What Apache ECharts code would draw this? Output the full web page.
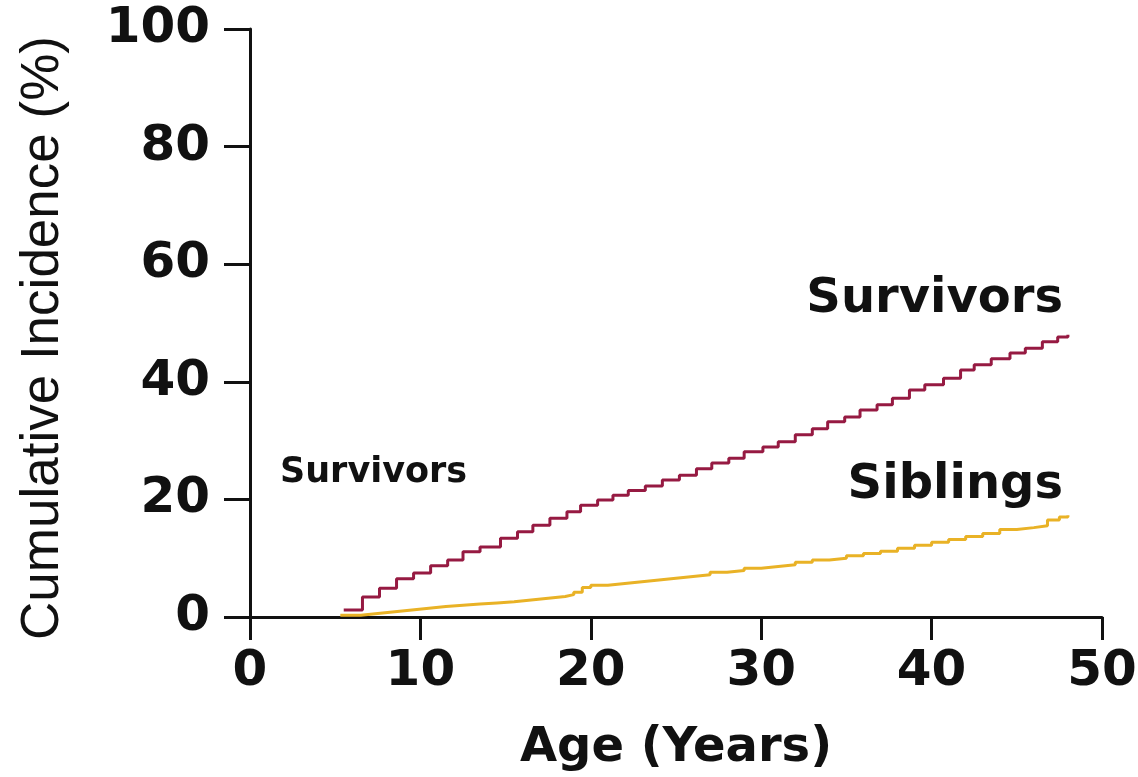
<!DOCTYPE html>
<html>
<head>
<meta charset="utf-8">
<script src="https://cdn.jsdelivr.net/npm/echarts@6/dist/echarts.min.js"></script>
<style>html,body{margin:0;padding:0;background:#fff;}#chart{width:1138px;height:777px;}</style>
</head>
<body>
<div id="chart"></div>
<script>
// Survivors: [age at step, cumulative incidence %]
const survivorsAge = [5.5,6.6,7.6,8.6,9.6,10.6,11.6,12.5,13.5,14.7,15.7,16.6,17.6,18.6,19.4,20.4,21.3,22.2,23.2,24.2,25.2,26.2,27.1,28.1,29.0,30.1,31.0,32.0,33.0,33.9,34.9,35.8,36.8,37.7,38.7,39.6,40.7,41.7,42.5,43.5,44.6,45.5,46.5,47.4,48.0];
const survivorsVal = [1.2,3.4,4.9,6.5,7.5,8.7,9.7,11.1,11.9,13.4,14.5,15.6,16.8,17.9,19.0,19.9,20.7,21.5,22.3,23.3,24.1,25.2,26.2,27.0,28.1,28.9,29.8,31.0,32.0,33.2,34.0,35.2,36.1,37.2,38.6,39.5,40.6,42.0,42.9,43.9,44.9,45.7,46.8,47.6,48.0];
const siblingsAge = [5.3,6.5,7.5,8.5,9.5,10.5,11.5,12.5,13.5,14.5,15.5,16.5,17.5,18.5,19.0,19.5,20.0,21,22,23,24,25,26,27,28,29,30,31,32,33,34,35,36,37,38,39,40,41,42,43,44,45,46,46.8,47.5,48];
const siblingsVal = [0.3,0.6,0.9,1.2,1.5,1.8,2.0,2.2,2.4,2.6,2.9,3.2,3.5,3.8,4.2,5.0,5.4,5.7,6.0,6.3,6.6,6.9,7.2,7.6,7.9,8.3,8.6,8.9,9.3,9.7,10.0,10.4,10.8,11.2,11.7,12.2,12.7,13.2,13.7,14.2,14.9,15.2,15.5,16.5,17.0,17.3];
const xTicks = [0,10,20,30,40,50];
const yTicks = [0,20,40,60,80,100];

const zip = (a,b) => a.map((v,i)=>[v,b[i]]);
const chart = echarts.init(document.getElementById('chart'), null, {renderer:'canvas'});
const tickFont = {fontFamily:'DejaVu Sans', fontWeight:'bold', fontSize:50, color:'#111'};
chart.setOption({
  animation:false,
  backgroundColor:'#fff',
  grid:{left:250, right:36, top:29, bottom:160, containLabel:false, outerBoundsMode:'none'},
  xAxis:{
    type:'value', min:0, max:50, interval:10,
    name:'Age (Years)', nameLocation:'middle', nameGap:108,
    nameTextStyle:{fontFamily:'DejaVu Sans', fontWeight:'bold', fontSize:48, color:'#111'},
    axisLine:{show:true, lineStyle:{color:'#111', width:3}},
    axisTick:{show:true, length:23, lineStyle:{color:'#111', width:3}},
    axisLabel:Object.assign({margin:30, formatter:v=>xTicks.includes(v)?String(v):''}, tickFont),
    splitLine:{show:false}
  },
  yAxis:{
    type:'value', min:0, max:100, interval:20,
    name:'Cumulative Incidence (%)', nameLocation:'middle', nameGap:180,
    nameTextStyle:{fontFamily:'Liberation Sans', fontSize:53, color:'#111', padding:[0,30,0,0]},
    axisLine:{show:true, lineStyle:{color:'#111', width:3}},
    axisTick:{show:true, length:26, lineStyle:{color:'#111', width:3}},
    axisLabel:Object.assign({margin:40, formatter:v=>yTicks.includes(v)?String(v):''}, tickFont),
    splitLine:{show:false}
  },
  series:[
    {name:'Siblings', type:'line', step:'end', symbol:'none', data:zip(siblingsAge, siblingsVal),
     lineStyle:{color:'#E9B226', width:3}, z:2},
    {name:'Survivors', type:'line', step:'end', symbol:'none', data:zip(survivorsAge, survivorsVal),
     lineStyle:{color:'#961A42', width:3}, z:3}
  ],
  graphic:[
    {type:'text', right:1138-1063, top:276, style:{text:'Survivors', fontFamily:'DejaVu Sans', fontWeight:'bold', fontSize:48, fill:'#111'}},
    {type:'text', right:1138-1063, top:462, style:{text:'Siblings', fontFamily:'DejaVu Sans', fontWeight:'bold', fontSize:48, fill:'#111'}},
    {type:'text', left:280, top:455, style:{text:'Survivors', fontFamily:'DejaVu Sans', fontWeight:'bold', fontSize:35, fill:'#111'}}
  ]
});
</script>
</body>
</html>
